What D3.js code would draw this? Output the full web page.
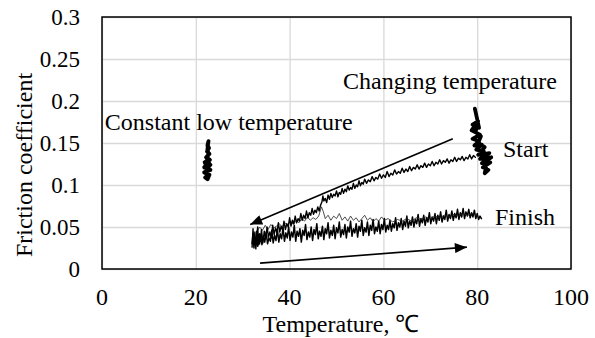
<!DOCTYPE html>
<html>
<head>
<meta charset="utf-8">
<script src="https://cdn.jsdelivr.net/npm/d3@7"></script>
<style>
  body { margin: 0; background: #fff; }
  #chart svg text { font-family: serif !important; }
</style>
</head>
<body>
<div id="chart"></div>
<script>
const FONT = 'serif';

const xTicks = [0, 20, 40, 60, 80, 100];
const yTicks = [0, 0.05, 0.1, 0.15, 0.2, 0.25, 0.3];

// constant low temperature run (temperature, friction)
const lowTemp = [
  [22.7, 0.152], [22.5, 0.147], [22.8, 0.144], [22.4, 0.140], [22.9, 0.137], [22.2, 0.133],
  [23.0, 0.130], [21.9, 0.127], [23.1, 0.124], [21.8, 0.121], [23.1, 0.118], [21.8, 0.115],
  [22.9, 0.112], [22.0, 0.109], [22.5, 0.107], [22.8, 0.111], [22.1, 0.114], [22.9, 0.119],
  [22.0, 0.123], [22.8, 0.127], [22.3, 0.132], [22.7, 0.136], [22.5, 0.142], [22.6, 0.148]
];

// cooling from ~80 C down to ~32 C (upper trace)
const cooling = [
  [32.0, 0.026], [32.2, 0.048], [32.4, 0.030], [32.6, 0.044], [32.8, 0.024], [33.0, 0.040],
  [33.2, 0.050], [33.4, 0.029], [33.6, 0.042], [33.8, 0.033], [34.0, 0.047], [34.3, 0.031],
  [34.6, 0.045], [34.9, 0.036], [35.2, 0.050], [35.5, 0.038], [35.8, 0.044], [36.1, 0.037],
  [36.4, 0.052], [36.7, 0.041], [37.0, 0.049], [37.3, 0.043], [37.6, 0.055], [37.9, 0.044],
  [38.2, 0.051], [38.5, 0.046], [38.8, 0.057], [39.1, 0.047], [39.4, 0.054], [39.7, 0.050],
  [40.0, 0.061], [40.3, 0.051], [40.6, 0.058], [40.9, 0.054], [41.2, 0.063], [41.5, 0.055],
  [41.8, 0.060], [42.1, 0.057], [42.4, 0.066], [42.7, 0.058], [43.0, 0.064], [43.3, 0.060],
  [43.6, 0.069], [43.9, 0.061], [44.2, 0.067], [44.5, 0.064], [44.8, 0.072], [45.1, 0.065],
  [45.4, 0.070], [45.7, 0.067], [46.0, 0.074], [46.3, 0.069], [46.6, 0.076], [46.9, 0.080],
  [47.1, 0.087], [47.3, 0.081], [47.6, 0.084], [47.9, 0.079], [48.2, 0.088], [48.5, 0.083],
  [48.8, 0.090], [49.1, 0.085], [49.4, 0.089], [49.7, 0.087], [50.0, 0.093], [50.3, 0.086],
  [50.6, 0.091], [50.9, 0.089], [51.2, 0.096], [51.5, 0.090], [51.8, 0.095], [52.1, 0.092],
  [52.4, 0.099], [52.7, 0.094], [53.0, 0.097], [53.3, 0.095], [53.6, 0.102], [53.9, 0.096],
  [54.2, 0.100], [54.5, 0.098], [54.8, 0.105], [55.1, 0.099], [55.4, 0.103], [55.7, 0.101],
  [56.0, 0.107], [56.4, 0.102], [56.8, 0.106], [57.2, 0.104], [57.6, 0.110], [58.0, 0.105],
  [58.4, 0.109], [58.8, 0.107], [59.2, 0.113], [59.6, 0.108], [60.0, 0.112], [60.4, 0.109],
  [60.8, 0.116], [61.2, 0.110], [61.6, 0.114], [62.0, 0.112], [62.4, 0.118], [62.8, 0.113],
  [63.2, 0.116], [63.6, 0.114], [64.0, 0.120], [64.4, 0.115], [64.8, 0.119], [65.2, 0.116],
  [65.6, 0.122], [66.0, 0.117], [66.4, 0.121], [66.8, 0.119], [67.2, 0.124], [67.6, 0.119],
  [68.0, 0.123], [68.4, 0.121], [68.8, 0.126], [69.2, 0.121], [69.6, 0.125], [70.0, 0.123],
  [70.4, 0.128], [70.8, 0.123], [71.2, 0.127], [71.6, 0.125], [72.0, 0.130], [72.4, 0.125],
  [72.8, 0.129], [73.2, 0.127], [73.6, 0.131], [74.0, 0.126], [74.4, 0.130], [74.8, 0.128],
  [75.2, 0.133], [75.6, 0.128], [76.0, 0.132], [76.4, 0.130], [76.8, 0.134], [77.2, 0.129],
  [77.6, 0.133], [78.0, 0.131], [78.4, 0.136], [78.8, 0.131], [79.2, 0.135], [79.6, 0.133]
];

// start cluster around 80 C
const startBlob = [
  [79.5, 0.191], [80.4, 0.168], [79.0, 0.172], [80.2, 0.176], [78.8, 0.165], [80.6, 0.160],
  [79.0, 0.155], [80.4, 0.152], [79.4, 0.147], [81.0, 0.148], [79.8, 0.142], [81.4, 0.140],
  [80.2, 0.136], [82.6, 0.138], [80.6, 0.131], [83.0, 0.133], [81.0, 0.126], [82.8, 0.127],
  [81.2, 0.121], [82.4, 0.118], [81.6, 0.114], [82.0, 0.124], [81.4, 0.130], [82.2, 0.135],
  [80.8, 0.140], [81.6, 0.145], [80.2, 0.150], [80.8, 0.158], [79.6, 0.163], [80.0, 0.170]
];

// heating from ~32 C back up to ~81 C (lower trace)
const heating = [
  [32.0, 0.030], [32.2, 0.042], [32.4, 0.025], [32.6, 0.038], [32.8, 0.028], [33.0, 0.045],
  [33.2, 0.027], [33.4, 0.036], [33.6, 0.030], [33.8, 0.041], [34.1, 0.029], [34.4, 0.039],
  [34.7, 0.032], [35.0, 0.044], [35.3, 0.030], [35.6, 0.037], [35.9, 0.033], [36.2, 0.046],
  [36.5, 0.031], [36.8, 0.040], [37.1, 0.034], [37.4, 0.047], [37.7, 0.032], [38.0, 0.042],
  [38.3, 0.036], [38.6, 0.049], [38.9, 0.033], [39.2, 0.043], [39.5, 0.037], [39.8, 0.050],
  [40.1, 0.034], [40.4, 0.044], [40.7, 0.038], [41.0, 0.052], [41.3, 0.033], [41.6, 0.045],
  [41.9, 0.039], [42.2, 0.048], [42.5, 0.032], [42.8, 0.046], [43.1, 0.040], [43.4, 0.053],
  [43.7, 0.035], [44.0, 0.044], [44.3, 0.038], [44.6, 0.050], [44.9, 0.034], [45.2, 0.047],
  [45.5, 0.041], [45.8, 0.054], [46.1, 0.036], [46.4, 0.045], [46.7, 0.039], [47.0, 0.051],
  [47.3, 0.035], [47.6, 0.048], [47.9, 0.042], [48.2, 0.055], [48.5, 0.037], [48.8, 0.046],
  [49.1, 0.040], [49.4, 0.052], [49.7, 0.036], [50.0, 0.049], [50.3, 0.043], [50.6, 0.056],
  [50.9, 0.038], [51.2, 0.047], [51.5, 0.041], [51.8, 0.053], [52.1, 0.037], [52.4, 0.050],
  [52.7, 0.044], [53.0, 0.057], [53.3, 0.039], [53.6, 0.048], [53.9, 0.043], [54.2, 0.054],
  [54.5, 0.038], [54.8, 0.051], [55.1, 0.045], [55.4, 0.058], [55.7, 0.040], [56.0, 0.049],
  [56.3, 0.044], [56.6, 0.056], [56.9, 0.040], [57.2, 0.052], [57.5, 0.046], [57.8, 0.059],
  [58.1, 0.042], [58.4, 0.050], [58.7, 0.045], [59.0, 0.057], [59.3, 0.042], [59.6, 0.053],
  [59.9, 0.047], [60.2, 0.060], [60.5, 0.044], [60.8, 0.052], [61.1, 0.047], [61.4, 0.058],
  [61.7, 0.045], [62.0, 0.054], [62.3, 0.049], [62.6, 0.061], [62.9, 0.046], [63.2, 0.055],
  [63.5, 0.050], [63.8, 0.060], [64.1, 0.047], [64.4, 0.057], [64.7, 0.051], [65.0, 0.063],
  [65.3, 0.049], [65.6, 0.057], [65.9, 0.052], [66.2, 0.062], [66.5, 0.050], [66.8, 0.059],
  [67.1, 0.054], [67.4, 0.065], [67.7, 0.051], [68.0, 0.060], [68.3, 0.055], [68.6, 0.064],
  [68.9, 0.052], [69.2, 0.061], [69.5, 0.056], [69.8, 0.067], [70.1, 0.054], [70.4, 0.062],
  [70.7, 0.057], [71.0, 0.066], [71.3, 0.054], [71.6, 0.064], [71.9, 0.058], [72.2, 0.068],
  [72.5, 0.056], [72.8, 0.063], [73.1, 0.059], [73.4, 0.070], [73.7, 0.057], [74.0, 0.065],
  [74.3, 0.060], [74.6, 0.069], [74.9, 0.058], [75.2, 0.066], [75.5, 0.061], [75.8, 0.071],
  [76.1, 0.059], [76.4, 0.067], [76.7, 0.062], [77.0, 0.072], [77.3, 0.060], [77.6, 0.068],
  [77.9, 0.063], [78.2, 0.071], [78.5, 0.061], [78.8, 0.067], [79.1, 0.062], [79.4, 0.070],
  [79.7, 0.060], [80.0, 0.066], [80.3, 0.059], [80.6, 0.063], [80.9, 0.060]
];

// thin run lying on top of the heating trace
const thinRun = [
  [33.0, 0.044], [33.6, 0.050], [34.2, 0.046], [34.8, 0.052], [35.4, 0.047], [36.0, 0.053],
  [36.6, 0.049], [37.2, 0.051], [37.8, 0.054], [38.4, 0.050], [39.0, 0.055], [39.6, 0.052],
  [40.2, 0.057], [40.8, 0.053], [41.4, 0.058], [42.0, 0.055], [42.6, 0.060], [43.2, 0.057],
  [43.8, 0.062], [44.4, 0.058], [45.0, 0.061], [45.6, 0.059], [46.2, 0.063], [46.8, 0.074],
  [47.2, 0.068], [47.6, 0.060], [48.2, 0.064], [48.8, 0.058], [49.4, 0.063], [50.0, 0.060],
  [50.6, 0.066], [51.2, 0.058], [51.8, 0.062], [52.4, 0.057], [53.0, 0.063], [53.6, 0.058],
  [54.2, 0.061], [54.8, 0.056], [55.4, 0.060], [56.0, 0.064], [56.6, 0.058], [57.2, 0.061],
  [57.8, 0.056], [58.4, 0.060], [59.0, 0.057], [59.6, 0.062], [60.2, 0.058], [61.0, 0.060],
  [62.0, 0.056], [63.0, 0.059], [64.0, 0.057], [65.0, 0.060], [66.0, 0.057], [67.0, 0.061],
  [68.0, 0.059], [69.0, 0.062], [70.0, 0.060], [71.0, 0.063], [72.0, 0.061], [73.0, 0.064],
  [74.0, 0.062], [75.0, 0.065], [76.0, 0.063], [77.0, 0.066], [78.0, 0.064], [79.0, 0.066],
  [80.0, 0.063]
];

// direction arrows, [from, to] in data units
const arrowCooling = [[74.8, 0.155], [31.6, 0.053]];
const arrowHeating = [[33.7, 0.007], [77.8, 0.026]];

const labels = [
  { text: 'Constant low temperature', t: 0.6, f: 0.165 },
  { text: 'Changing temperature', t: 51.4, f: 0.214 },
  { text: 'Start', t: 85.5, f: 0.133 },
  { text: 'Finish', t: 83.8, f: 0.052 }
];

const width = 595, height = 338;
const margin = { top: 17, right: 24, bottom: 69, left: 102 };

const svg = d3.select('#chart').append('svg')
  .attr('width', width)
  .attr('height', height)
  .attr('font-family', FONT);

const x = d3.scaleLinear().domain([0, 100]).range([margin.left, width - margin.right]);
const y = d3.scaleLinear().domain([0, 0.3]).range([height - margin.bottom, margin.top]);

// grid
svg.append('g')
  .attr('transform', `translate(0,${height - margin.bottom})`)
  .call(d3.axisBottom(x).tickValues(xTicks).tickSize(-(height - margin.top - margin.bottom)).tickFormat(''))
  .call(g => g.select('.domain').remove())
  .call(g => g.selectAll('line').attr('stroke', '#d9d9d9').attr('stroke-width', 1.3));

svg.append('g')
  .attr('transform', `translate(${margin.left},0)`)
  .call(d3.axisLeft(y).tickValues(yTicks).tickSize(-(width - margin.left - margin.right)).tickFormat(''))
  .call(g => g.select('.domain').remove())
  .call(g => g.selectAll('line').attr('stroke', '#d9d9d9').attr('stroke-width', 1.3));

// tick labels
svg.append('g').selectAll('text')
  .data(xTicks)
  .join('text')
  .attr('x', d => x(d))
  .attr('y', 305)
  .attr('text-anchor', 'middle')
  .attr('font-family', FONT)
  .attr('font-size', 24)
  .text(d => d);

svg.append('g').selectAll('text')
  .data(yTicks)
  .join('text')
  .attr('x', 80)
  .attr('y', d => y(d))
  .attr('dy', '0.35em')
  .attr('text-anchor', 'end')
  .attr('font-family', FONT)
  .attr('font-size', 23)
  .text(d => d3.format('~g')(d));

// data traces
const line = d3.line().x(d => x(d[0])).y(d => y(d[1]));

function trace(data, w, color) {
  svg.append('path').datum(data)
    .attr('d', line)
    .attr('fill', 'none')
    .attr('stroke', color)
    .attr('stroke-width', w)
    .attr('stroke-linejoin', 'round')
    .attr('stroke-linecap', 'round');
}

trace(lowTemp, 4, '#000');
trace(heating, 1.5, '#000');
trace(thinRun, 0.8, '#222');
trace(cooling, 1.4, '#000');
trace(startBlob, 3.8, '#000');

// arrows
svg.append('defs').append('marker')
  .attr('id', 'head')
  .attr('viewBox', '0 0 12 10')
  .attr('refX', 12).attr('refY', 5)
  .attr('markerWidth', 13).attr('markerHeight', 10)
  .attr('markerUnits', 'userSpaceOnUse')
  .attr('orient', 'auto')
  .append('path').attr('d', 'M0,0 L12,5 L0,10 Z').attr('fill', '#000');

[arrowCooling, arrowHeating].forEach(a => {
  svg.append('line')
    .attr('x1', x(a[0][0])).attr('y1', y(a[0][1]))
    .attr('x2', x(a[1][0])).attr('y2', y(a[1][1]))
    .attr('stroke', '#000').attr('stroke-width', 1.6)
    .attr('marker-end', 'url(#head)');
});

// annotations
svg.append('g').selectAll('text')
  .data(labels)
  .join('text')
  .attr('x', d => x(d.t))
  .attr('y', d => y(d.f))
  .attr('font-family', FONT)
  .attr('font-size', 24)
  .text(d => d.text);

// frame
svg.append('rect')
  .attr('x', margin.left).attr('y', margin.top)
  .attr('width', width - margin.left - margin.right)
  .attr('height', height - margin.top - margin.bottom)
  .attr('fill', 'none').attr('stroke', '#000').attr('stroke-width', 1.5);

// axis titles
svg.append('text')
  .attr('x', 341).attr('y', 332)
  .attr('text-anchor', 'middle')
  .attr('font-family', FONT)
  .attr('font-size', 24)
  .text('Temperature,  ℃');

svg.append('text')
  .attr('transform', `translate(32,165) rotate(-90)`)
  .attr('text-anchor', 'middle')
  .attr('font-family', FONT)
  .attr('font-size', 24)
  .text('Friction coefficient');
</script>
</body>
</html>
